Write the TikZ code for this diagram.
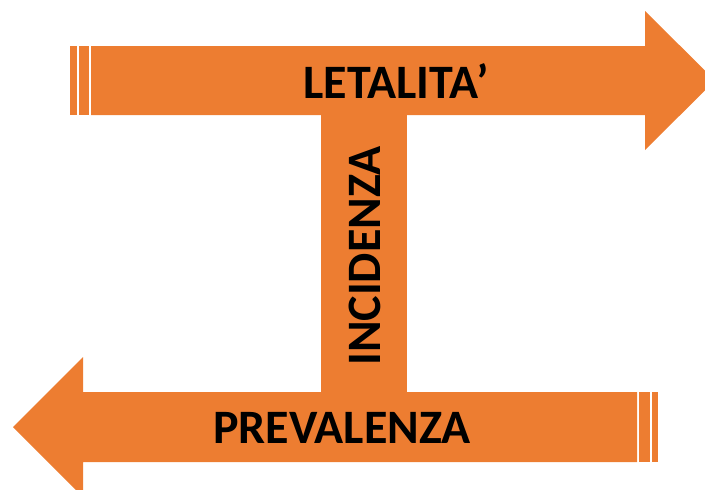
\documentclass[tikz,border=0pt]{standalone}
\usepackage{fontspec}
\setmainfont{Carlito}
\usetikzlibrary{positioning}
\definecolor{arancio}{HTML}{ED7D31}

\begin{document}
\begin{tikzpicture}[x=1pt, y=-1pt,
    band/.style={fill=arancio},
    label/.style={font=\bfseries\fontsize{48}{48}\selectfont, text=black, inner sep=0pt}
]
\useasboundingbox (0,0) rectangle (705,490);
\clip (0,0) rectangle (705,490);

% Top arrow (to the right)
\fill[band] (70,46) rectangle (77,115);
\fill[band] (79,46) rectangle (89,115);
\fill[band] (91,46) -- (645,46) -- (645,11) -- (715,80.5) -- (645,150) -- (645,115) -- (91,115) -- cycle;

% Bottom arrow (to the left)
\fill[band] (637,392) -- (83,392) -- (83,357) -- (13,427) -- (83,497) -- (83,462) -- (637,462) -- cycle;
\fill[band] (639,392) rectangle (650,462);
\fill[band] (652,392) rectangle (658,462);

% Vertical bar
\fill[band] (321,114) rectangle (407,393);

% Labels
\node[label] (letalita) at (396,81) {LETALITA’};
\node[label] (prevalenza) at (342,428) {PREVALENZA};
\node[label, rotate=90] (incidenza) at (365,256) {INCIDENZA};

\end{tikzpicture}
\end{document}
